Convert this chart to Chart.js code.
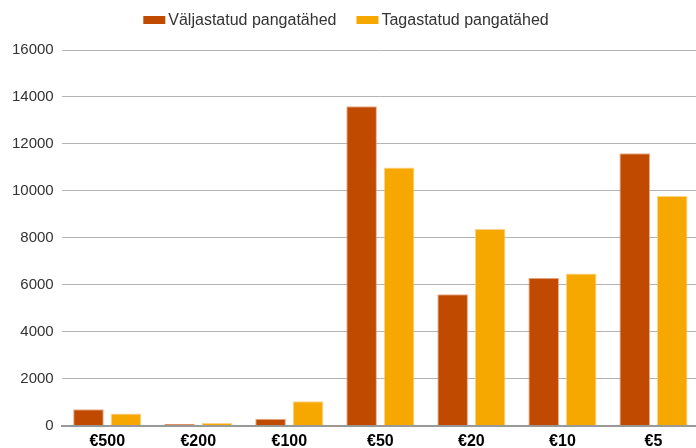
<!DOCTYPE html>
<html>
<head>
<meta charset="utf-8">
<script src="https://cdn.jsdelivr.net/npm/chart.js@4/dist/chart.umd.min.js"></script>
<style>
  html, body { margin: 0; padding: 0; background: #fff; overflow: hidden; }
  #wrap { width: 699px; height: 448px; position: relative; }
</style>
</head>
<body>
<div id="wrap"><canvas id="chart"></canvas></div>
<script>
// banknote denominations
const denominations = ['€500', '€200', '€100', '€50', '€20', '€10', '€5'];
const issuedNotes = [700, 80, 300, 13600, 5600, 6300, 11600];
const returnedNotes = [520, 120, 1050, 11000, 8380, 6480, 9780];
const yTicks = [0, 2000, 4000, 6000, 8000, 10000, 12000, 14000, 16000];

const ISSUED_COLOR = '#bf4a00';
const RETURNED_COLOR = '#f6a800';

// legend drawn by hand so the box/text spacing matches the original
const compactLegend = {
    id: 'compactLegend',
    afterDraw(chart) {
        const ctx = chart.ctx;
        ctx.save();
        ctx.font = '16px "Liberation Sans"';
        ctx.textBaseline = 'middle';
        const items = chart.data.datasets.map(ds => ({
            text: ds.label,
            color: ds.backgroundColor,
            w: 22 + 3 + ctx.measureText(ds.label).width
        }));
        const gap = 20;
        const total = items.reduce((s, it) => s + it.w, 0) + gap * (items.length - 1);
        let x = (692 - total) / 2;
        const y = 20;
        items.forEach(it => {
            ctx.fillStyle = it.color;
            ctx.fillRect(x, y - 4, 22, 8);
            ctx.fillStyle = '#333';
            ctx.fillText(it.text, x + 25, y + 1);
            x += it.w + gap;
        });
        ctx.restore();
    }
};

new Chart(document.getElementById('chart'), {
    type: 'bar',
    data: {
        labels: denominations,
        datasets: [
            {
                label: 'Väljastatud pangatähed',
                data: issuedNotes,
                backgroundColor: ISSUED_COLOR,
                borderColor: 'rgba(230,150,110,0.8)',
                borderWidth: 1
            },
            {
                label: 'Tagastatud pangatähed',
                data: returnedNotes,
                backgroundColor: RETURNED_COLOR,
                borderColor: 'rgba(250,200,110,0.8)',
                borderWidth: 1
            }
        ]
    },
    options: {
        responsive: true,
        maintainAspectRatio: false,
        animation: false,
        categoryPercentage: 0.824,
        barPercentage: 0.816,
        layout: { padding: { left: 4, right: 0, top: 50, bottom: -9 } },
        plugins: {
            legend: { display: false },
            tooltip: { enabled: false }
        },
        scales: {
            x: {
                grid: { display: false, drawTicks: false },
                border: { color: '#999', width: 2 },
                ticks: {
                    color: '#000',
                    padding: 6,
                    font: { family: 'Liberation Sans', size: 16, weight: 'bold' }
                }
            },
            y: {
                min: 0,
                max: 16000,
                afterBuildTicks: (axis) => { axis.ticks = yTicks.map(v => ({ value: v })); },
                grid: { color: '#b3b3b3', lineWidth: 1, drawTicks: false },
                border: { display: false },
                ticks: {
                    color: '#333',
                    padding: 8,
                    font: { family: 'Liberation Sans', size: 15 },
                    callback: (v) => String(v)
                }
            }
        }
    },
    plugins: [compactLegend]
});
</script>
</body>
</html>
